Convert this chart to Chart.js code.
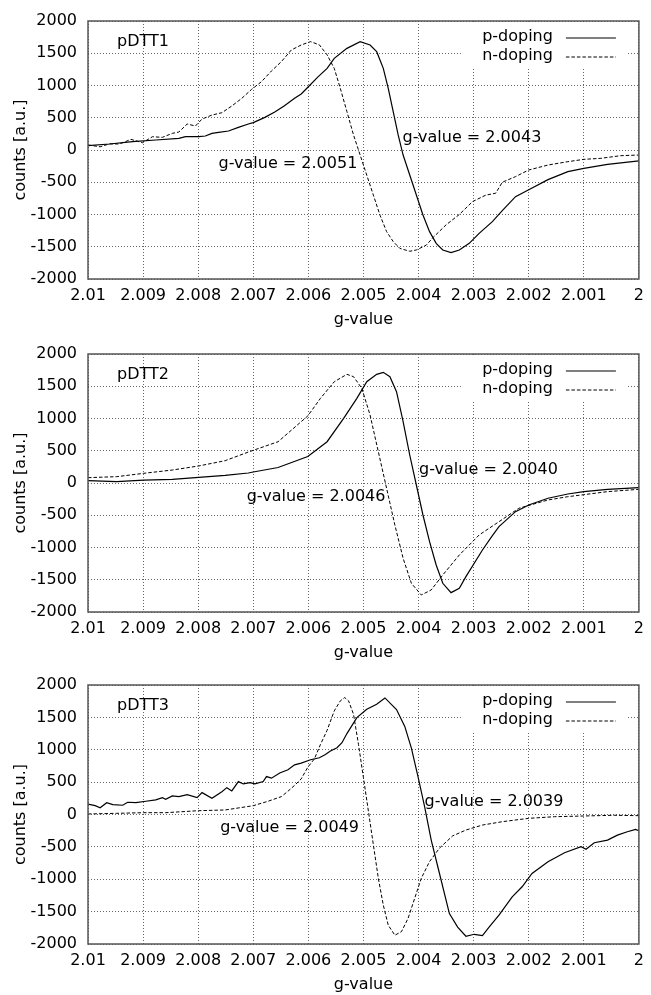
<!DOCTYPE html>
<html><head><meta charset="utf-8">
<script src="https://cdn.jsdelivr.net/npm/chart.js@4"></script>
<style>
html,body{margin:0;padding:0;background:#fff;}
body{width:651px;height:995px;position:relative;overflow:hidden;}
canvas{position:absolute;left:0;}
</style></head><body>
<canvas id="c1" width="651" height="330" style="top:0px"></canvas>
<canvas id="c2" width="651" height="330" style="top:333px"></canvas>
<canvas id="c3" width="651" height="331" style="top:664px"></canvas>
<script>
// ---------- tick labels & names ----------
const xTicks = [2.01, 2.009, 2.008, 2.007, 2.006, 2.005, 2.004, 2.003, 2.002, 2.001, 2.0];
const yTicks = [-2000, -1500, -1000, -500, 0, 500, 1000, 1500, 2000];
const panelNames = ['pDTT1', 'pDTT2', 'pDTT3'];
const seriesNames = ['p-doping', 'n-doping'];
const xTitle = 'g-value';
const yTitle = 'counts [a.u.]';

// ---------- pDTT1 ----------
const gP1 = [2.01000,2.00961,2.00919,2.00877,2.00835,2.00823,2.00799,2.00787,2.00775,2.00763,2.00745,2.00727,2.00709,2.00700,2.00679,2.00661,2.00644,2.00625,2.00613,2.00600,2.00583,2.00566,2.00553,2.00530,2.00506,2.00488,2.00476,2.00464,2.00455,2.00446,2.00437,2.00428,2.00416,2.00404,2.00392,2.00380,2.00368,2.00356,2.00341,2.00326,2.00308,2.00290,2.00266,2.00248,2.00224,2.00200,2.00165,2.00129,2.00100,2.00057,2.00000];
const cP1 = [67,93,129,155,181,207,207,217,258,274,294,351,403,424,506,589,682,801,868,981,1130,1266,1421,1576,1679,1628,1524,1266,956,594,233,-78,-388,-698,-1008,-1266,-1447,-1550,-1592,-1550,-1447,-1292,-1111,-940,-724,-615,-460,-336,-284,-222,-170];
const gN1 = [2.01000,2.00978,2.00961,2.00943,2.00922,2.00901,2.00883,2.00865,2.00847,2.00835,2.00820,2.00805,2.00793,2.00775,2.00757,2.00739,2.00721,2.00703,2.00685,2.00667,2.00649,2.00631,2.00613,2.00596,2.00580,2.00566,2.00553,2.00542,2.00530,2.00518,2.00506,2.00494,2.00482,2.00470,2.00458,2.00446,2.00434,2.00416,2.00404,2.00386,2.00374,2.00350,2.00326,2.00302,2.00278,2.00260,2.00248,2.00224,2.00200,2.00165,2.00129,2.00100,2.00069,2.00033,2.00000];
const cN1 = [78,50,95,93,165,113,206,196,258,279,403,372,480,542,578,682,800,940,1060,1225,1370,1550,1628,1680,1630,1475,1265,955,595,232,-78,-390,-700,-1010,-1265,-1420,-1525,-1570,-1550,-1475,-1360,-1160,-1000,-800,-700,-670,-500,-413,-310,-233,-181,-145,-129,-88,-78];
const notes1 = ['g-value = 2.0051', 'g-value = 2.0043'];
const notesG1 = [2.00763, 2.00429];
const notesC1 = [-210, 181];

// ---------- pDTT2 ----------
const gP2 = [2.01000,2.00948,2.00899,2.00847,2.00799,2.00751,2.00709,2.00700,2.00655,2.00601,2.00566,2.00536,2.00512,2.00494,2.00476,2.00464,2.00452,2.00440,2.00428,2.00416,2.00404,2.00392,2.00380,2.00368,2.00356,2.00341,2.00326,2.00314,2.00284,2.00266,2.00254,2.00224,2.00200,2.00165,2.00129,2.00100,2.00057,2.00000];
const cP2 = [36,20,46,57,88,119,155,170,240,410,640,1003,1313,1570,1685,1716,1648,1415,950,434,-31,-496,-910,-1271,-1555,-1700,-1632,-1452,-1039,-815,-677,-444,-341,-237,-171,-134,-98,-72];
const gN2 = [2.01000,2.00948,2.00899,2.00847,2.00799,2.00751,2.00709,2.00655,2.00601,2.00578,2.00553,2.00530,2.00518,2.00503,2.00488,2.00473,2.00458,2.00443,2.00428,2.00413,2.00395,2.00377,2.00356,2.00326,2.00290,2.00254,2.00218,2.00165,2.00129,2.00100,2.00057,2.00000];
const cN2 = [83,98,150,201,264,346,480,640,1040,1313,1570,1685,1648,1468,1054,485,-82,-651,-1167,-1555,-1736,-1658,-1426,-1116,-806,-600,-392,-263,-212,-181,-134,-98];
const notes2 = ['g-value = 2.0046', 'g-value = 2.0040'];
const notesG2 = [2.00712, 2.00399];
const notesC2 = [-212, 201];

// ---------- pDTT3 ----------
const gP3 = [2.01000,2.00987,2.00978,2.00966,2.00955,2.00937,2.00928,2.00913,2.00895,2.00877,2.00865,2.00859,2.00847,2.00835,2.00820,2.00802,2.00793,2.00775,2.00757,2.00748,2.00739,2.00727,2.00718,2.00706,2.00697,2.00682,2.00676,2.00667,2.00652,2.00637,2.00625,2.00613,2.00596,2.00580,2.00569,2.00560,2.00548,2.00539,2.00530,2.00512,2.00494,2.00476,2.00461,2.00440,2.00425,2.00413,2.00401,2.00389,2.00377,2.00362,2.00344,2.00329,2.00314,2.00299,2.00284,2.00272,2.00254,2.00230,2.00212,2.00194,2.00165,2.00135,2.00105,2.00096,2.00081,2.00057,2.00039,2.00021,2.00006,2.00000];
const cP3 = [160,136,105,183,152,143,189,183,205,225,260,236,287,276,307,260,338,251,353,415,364,508,472,493,472,508,586,561,640,690,767,794,845,876,927,980,1031,1108,1250,1496,1625,1703,1800,1620,1361,1026,586,121,-395,-911,-1531,-1738,-1880,-1850,-1870,-1738,-1555,-1271,-1116,-911,-730,-591,-498,-538,-436,-395,-318,-266,-229,-251];
const gN3 = [2.01000,2.00948,2.00899,2.00859,2.00799,2.00751,2.00700,2.00673,2.00649,2.00637,2.00625,2.00613,2.00601,2.00589,2.00578,2.00566,2.00553,2.00542,2.00534,2.00527,2.00518,2.00509,2.00500,2.00491,2.00482,2.00473,2.00464,2.00455,2.00443,2.00431,2.00419,2.00407,2.00395,2.00380,2.00362,2.00338,2.00314,2.00284,2.00248,2.00200,2.00153,2.00100,2.00045,2.00000];
const cN3 = [8,18,28,28,59,70,136,205,276,360,450,550,730,860,1082,1300,1600,1755,1806,1755,1547,1082,566,50,-468,-985,-1399,-1709,-1864,-1810,-1604,-1294,-985,-727,-519,-330,-240,-163,-111,-59,-34,-23,-12,-18];
const notes3 = ['g-value = 2.0049', 'g-value = 2.0039'];
const notesG3 = [2.00760, 2.00389];
const notesC3 = [-206, 201];

// ---------- drawing ----------
const FAMILY = '"DejaVu Sans", "Liberation Sans", sans-serif';
const FSIZE = 16;
Chart.defaults.font.family = FAMILY;
Chart.defaults.font.size = FSIZE;
Chart.defaults.color = '#000';

function toPts(gs, cs) { return gs.map((g, i) => ({x: g, y: cs[i]})); }

function decorPlugin(panelName, notes, notesG, notesC) {
  return {
    id: 'decor',
    beforeDatasetsDraw(chart) {
      const {ctx, chartArea: a} = chart;
      ctx.save();
      ctx.fillStyle = '#fff';
      ctx.fillRect(a.right - 178, a.top + 1, 166, 45);
      ctx.restore();
    },
    afterDatasetsDraw(chart) {
      const {ctx, chartArea: a} = chart;
      const xs = chart.scales.x, ys = chart.scales.y;
      ctx.save();
      ctx.font = FSIZE + 'px ' + FAMILY;
      ctx.fillStyle = '#000';
      ctx.textBaseline = 'middle';
      ctx.textAlign = 'left';
      ctx.fillText(panelName, a.left + 29, a.top + 21);
      notes.forEach((t, i) => {
        ctx.fillText(t, xs.getPixelForValue(notesG[i]), ys.getPixelForValue(notesC[i]));
      });
      ctx.textAlign = 'right';
      const rows = [a.top + 16, a.top + 35];
      seriesNames.forEach((n, i) => {
        ctx.fillText(n, a.right - 86, rows[i]);
        const ds = chart.data.datasets[i];
        ctx.beginPath();
        ctx.lineWidth = ds.borderWidth;
        ctx.strokeStyle = '#000';
        ctx.setLineDash(ds.borderDash || []);
        ctx.moveTo(a.right - 73, rows[i] + 1);
        ctx.lineTo(a.right - 23, rows[i] + 1);
        ctx.stroke();
      });
      ctx.setLineDash([]);
      ctx.lineWidth = 1.5;
      ctx.strokeStyle = '#555';
      ctx.strokeRect(a.left, a.top, a.right - a.left, a.bottom - a.top);
      ctx.restore();
    }
  };
}

function makeChart(id, idx, gP, cP, gN, cN, notes, notesG, notesC) {
  const fnt = {family: FAMILY, size: FSIZE};
  return new Chart(document.getElementById(id), {
    type: 'line',
    data: {
      datasets: [
        {label: seriesNames[0], data: toPts(gP, cP), borderColor: '#000', borderWidth: 1.2,
         pointRadius: 0, tension: 0, fill: false},
        {label: seriesNames[1], data: toPts(gN, cN), borderColor: '#000', borderWidth: 1,
         borderDash: [3.5, 2], pointRadius: 0, tension: 0, fill: false}
      ]
    },
    options: {
      responsive: false, animation: false, events: [],
      layout: {padding: {top: 21, right: 6, left: 0, bottom: 0}},
      plugins: {legend: {display: false}, tooltip: {enabled: false}},
      scales: {
        x: {
          type: 'linear', reverse: true, min: 2.0, max: 2.01,
          afterBuildTicks: s => { s.ticks = xTicks.map(v => ({value: v})); },
          afterFit: s => { s.height = 51; },
          ticks: {autoSkip: false, maxRotation: 0, minRotation: 0, padding: 7, color: '#000', font: fnt,
                  callback: v => String(Number(Number(v).toFixed(3)))},
          grid: {color: 'rgba(0,0,0,0.6)', lineWidth: 1, drawTicks: false},
          border: {display: false, dash: [1, 2]},
          title: {display: true, text: xTitle, color: '#000', font: fnt, padding: {top: 0, bottom: 1}}
        },
        y: {
          type: 'linear', min: -2000, max: 2000,
          afterBuildTicks: s => { s.ticks = yTicks.map(v => ({value: v})); },
          afterFit: s => { s.width = 88; },
          ticks: {padding: 11, color: '#000', font: fnt, callback: v => String(v)},
          grid: {color: 'rgba(0,0,0,0.6)', lineWidth: 1, drawTicks: false},
          border: {display: false, dash: [1, 2]},
          title: {display: true, text: yTitle, color: '#000', font: fnt, padding: {top: 11, bottom: 0}}
        }
      }
    },
    plugins: [decorPlugin(panelNames[idx], notes, notesG, notesC)]
  });
}

makeChart('c1', 0, gP1, cP1, gN1, cN1, notes1, notesG1, notesC1);
makeChart('c2', 1, gP2, cP2, gN2, cN2, notes2, notesG2, notesC2);
makeChart('c3', 2, gP3, cP3, gN3, cN3, notes3, notesG3, notesC3);
</script>
</body></html>
